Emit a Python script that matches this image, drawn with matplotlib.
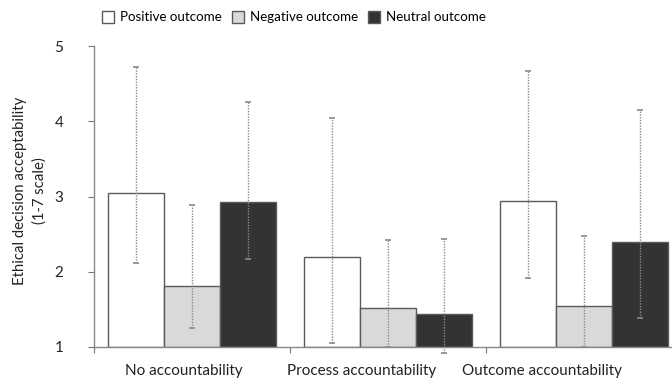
import matplotlib.pyplot as plt
from matplotlib.patches import Patch
import numpy as np

plt.rcParams['font.family'] = ['Lato', 'DejaVu Sans']

conditions = ["No accountability", "Process accountability", "Outcome accountability"]
outcomes = ["Positive outcome", "Negative outcome", "Neutral outcome"]

# Mean acceptability per outcome (rows) and accountability condition (columns)
means = {
    "Positive outcome": [3.04, 2.19, 2.94],
    "Negative outcome": [1.81, 1.52, 1.54],
    "Neutral outcome":  [2.93, 1.44, 2.40],
}
# Error bar ends (lower, upper)
err_low = {
    "Positive outcome": [2.11, 1.05, 1.92],
    "Negative outcome": [1.25, 1.00, 1.00],
    "Neutral outcome":  [2.17, 0.92, 1.38],
}
err_high = {
    "Positive outcome": [4.72, 4.04, 4.67],
    "Negative outcome": [2.89, 2.42, 2.48],
    "Neutral outcome":  [4.25, 2.44, 4.15],
}
y_ticks = [1, 2, 3, 4, 5]
y_label_lines = ["Ethical decision acceptability", "(1-7 scale)"]

fills = {"Positive outcome": "white", "Negative outcome": "#d9d9d9", "Neutral outcome": "#333333"}
edge = "#5a5a5a"

fig = plt.figure(figsize=(6.72, 3.82), dpi=100)
ax = fig.add_axes([94 / 672, 1 - 347 / 382, (672 - 94) / 672, (347 - 46) / 382])

centers = np.arange(len(conditions)) + 0.5
width = 0.2857
for i, name in enumerate(outcomes):
    x = centers + (i - 1) * width
    m = np.array(means[name])
    ax.bar(x, m - 1, width=width, bottom=1, color=fills[name], edgecolor=edge,
           linewidth=1.0, zorder=2)
    lo = m - np.array(err_low[name])
    hi = np.array(err_high[name]) - m
    eb = ax.errorbar(x, m, yerr=[lo, hi], fmt='none', ecolor='#8a8a8a',
                     elinewidth=1.0, capsize=2, capthick=1.2, zorder=3)
    eb.lines[2][0].set_linestyle((0, (1, 1)))
    eb.lines[2][0].set_clip_on(False)
    for cap in eb.lines[1]:
        cap.set_clip_on(False)

ax.set_ylim(1, 5)
ax.set_xlim(0, (672 - 94) / 196)
ax.set_yticks(y_ticks)
ax.set_yticklabels([str(t) for t in y_ticks], fontsize=11, color="#222222")
ax.set_xticks([0, 1, 2])
ax.set_xticklabels([])
# category labels sit slightly left of the group centres
label_pos = [0.459, 1.367, 2.286]
ax.set_xticks(label_pos, minor=True)
ax.set_xticklabels(conditions, minor=True, fontsize=11, color="#222222")
ax.tick_params(axis='x', which='major', length=4, color="#777777", direction='out')
ax.tick_params(axis='x', which='minor', length=0, pad=12)
ax.tick_params(axis='y', length=4, color="#777777", pad=18)

for side in ("top", "right"):
    ax.spines[side].set_visible(False)
for side in ("left", "bottom"):
    ax.spines[side].set_color("#888888")
    ax.spines[side].set_linewidth(1.0)

# two-line y-axis title, each line centred on the same height
label_y = 1 - 191 / 382
for text, xpx in zip(y_label_lines, [20, 40]):
    fig.text(xpx / 672, label_y, text, rotation=90, ha='center', va='center',
             fontsize=10.7, color="#222222")

handles = [Patch(facecolor=fills[n], edgecolor=edge, linewidth=1.0) for n in outcomes]
fig.legend(handles, outcomes, loc='center', bbox_to_anchor=(0.4375, 0.955), ncol=3,
           frameon=False, fontsize=9.6, handlelength=0.92, handleheight=0.95,
           handletextpad=0.45, columnspacing=0.75, borderpad=0.1)

fig.savefig("out.png", dpi=100)
